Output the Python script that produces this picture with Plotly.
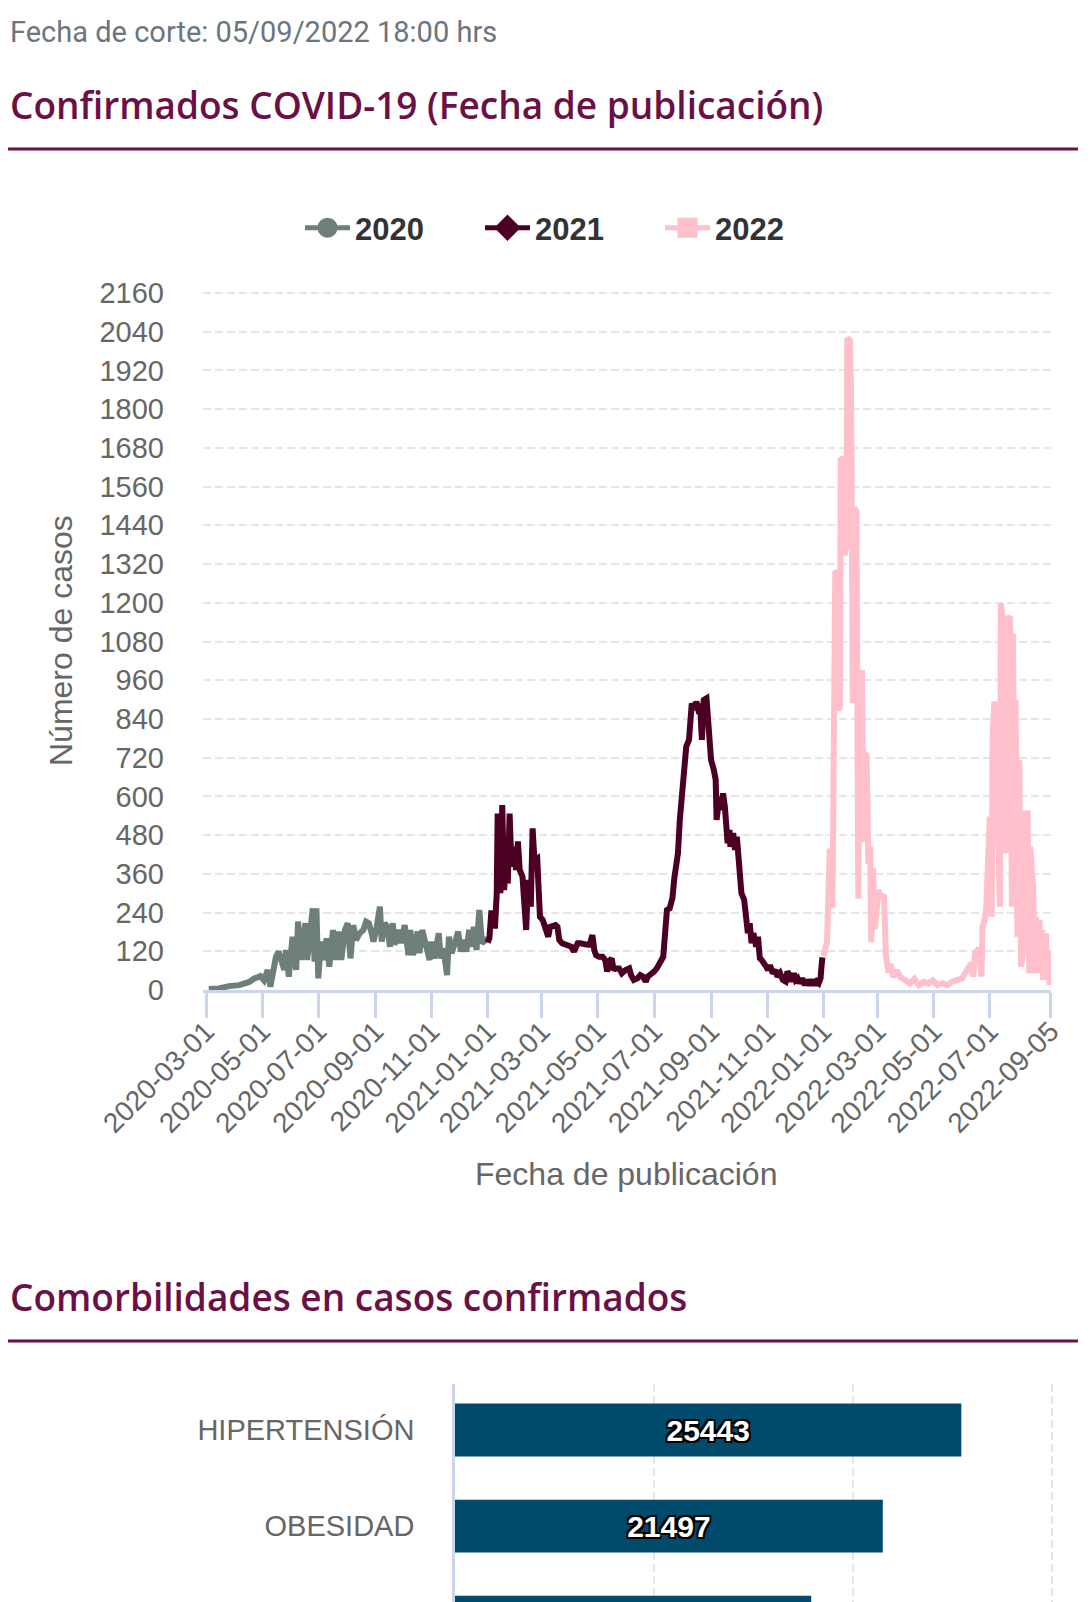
import pandas as pd
import plotly.graph_objects as go

# ---------------- data ----------------
START = "2020-03-01"  # day 0 of the day-offset arrays below

days_2020 = [3, 14, 25, 36, 47, 52, 59, 63, 67, 70, 76, 79, 85, 87, 90, 94, 98, 100, 103, 108,
             110, 113, 116, 118, 120, 122, 125, 129, 131, 134, 138, 141, 144, 147, 151, 154, 157, 160,
             163, 167, 171, 174, 177, 180, 182, 185, 189, 191, 194, 197, 200, 203, 205, 209, 212, 216,
             220, 222, 225, 230, 232, 235, 239, 243, 245, 248, 253, 255, 258, 262, 264, 267, 271, 274,
             277, 280, 283, 286, 289, 291, 294, 297, 300, 304, 306]
vals_2020 = [3, 5, 12, 15, 25, 35, 43, 30, 62, 10, 103, 119, 62, 124, 41, 165, 62, 212, 93, 207,
             93, 201, 253, 88, 253, 36, 150, 93, 160, 72, 186, 93, 181, 93, 186, 207, 98, 201,
             155, 176, 186, 212, 207, 176, 150, 186, 258, 150, 207, 196, 134, 207, 140, 186, 145, 201,
             108, 186, 108, 181, 114, 186, 134, 93, 150, 98, 176, 98, 129, 46, 165, 114, 150, 181,
             119, 155, 119, 186, 134, 196, 124, 248, 145, 155, 150]

days_2021 = [306, 308, 310, 313, 314, 316, 317, 318, 320, 322, 324, 326, 328, 330, 332, 334, 337, 339,
             341, 344, 346, 348, 350, 353, 355, 357, 360, 361, 363, 366, 369, 372, 374, 377, 380, 382,
             384, 387, 391, 395, 397, 400, 404, 407, 411, 415, 417, 420, 422, 424, 427, 431, 434, 436,
             438, 441, 443, 445, 449, 452, 456, 460, 462, 465, 469, 472, 475, 478, 480, 483, 487, 490,
             494, 497, 499, 501, 504, 507, 509, 511, 513, 515, 517, 520, 522, 525, 526, 528, 531, 533,
             536, 537, 539, 541, 544, 545, 547, 549, 552, 554, 555, 558, 559, 562, 564, 566, 567, 569,
             570, 573, 575, 577, 580, 582, 585, 587, 589, 591, 593, 595, 598, 600, 602, 604, 607, 609,
             611, 613, 616, 619, 621, 624, 627, 630, 632, 633, 636, 639, 641, 643, 645, 648, 651, 653,
             656, 659, 662, 664, 666, 668, 669, 670]
vals_2021 = [147, 160, 238, 238, 190, 300, 547, 420, 300, 573, 310, 400, 330, 547, 382, 444, 372, 460,
             372, 351, 289, 186, 341, 258, 501, 403, 408, 351, 227, 217, 196, 165, 196, 201, 201, 196,
             155, 145, 140, 140, 134, 119, 145, 145, 140, 140, 140, 170, 124, 108, 103, 103, 93, 57,
             88, 98, 62, 67, 67, 52, 62, 67, 46, 31, 36, 46, 41, 26, 41, 46, 57, 67,
             93, 103, 176, 248, 253, 285, 345, 400, 424, 527, 599, 651, 754, 775, 857, 888, 868, 894,
             857, 888, 775, 899, 904, 857, 816, 713, 682, 651, 527, 599, 558, 609, 568, 506, 455, 496,
             444, 486, 434, 475, 341, 300, 279, 238, 176, 207, 145, 176, 134, 165, 98, 93, 83, 72,
             62, 77, 52, 62, 41, 52, 31, 26, 57, 52, 26, 52, 31, 36, 21, 36, 15, 31,
             15, 31, 15, 26, 21, 36, 72, 101]

days_2022 = [671, 675, 678, 679, 681, 683, 684, 686, 687, 689, 690, 693, 694, 696, 697, 700, 701, 702,
             703, 705, 707, 709, 711, 713, 715, 716, 718, 720, 722, 723, 725, 727, 731, 734, 737, 739,
             742, 744, 747, 751, 755, 760, 765, 770, 775, 780, 785, 790, 795, 801, 806, 811, 818, 822,
             825, 829, 832, 834, 836, 840, 843, 844, 846, 848, 850, 852, 854, 855, 857, 859, 861, 863,
             864, 866, 868, 869, 870, 872, 874, 876, 877, 878, 880, 882, 884, 886, 888, 891, 893, 895,
             896, 899, 901, 902, 904, 906, 907, 909, 910, 913, 914, 916, 917, 918]
vals_2022 = [105, 148, 438, 263, 263, 862, 1299, 1293, 868, 875, 1643, 1649, 1347, 1373, 2020, 2013, 1872, 1495,
             889, 1495, 1481, 283, 983, 983, 458, 734, 727, 390, 444, 148, 377, 189, 310, 283, 296, 108,
             54, 81, 40, 61, 40, 30, 20, 35, 15, 25, 20, 30, 15, 21, 15, 26, 31, 36,
             52, 72, 83, 41, 114, 129, 41, 196, 212, 248, 465, 537, 227, 785, 894, 630, 444, 258,
             1198, 1147, 651, 424, 692, 1152, 1157, 258, 1105, 837, 899, 165, 713, 72, 114, 547, 547, 52,
             444, 320, 52, 227, 52, 217, 72, 186, 31, 176, 31, 124, 15, 60]

series_names = ["2020", "2021", "2022"]

x_tick_labels = ["2020-03-01", "2020-05-01", "2020-07-01", "2020-09-01", "2020-11-01",
                 "2021-01-01", "2021-03-01", "2021-05-01", "2021-07-01", "2021-09-01",
                 "2021-11-01", "2022-01-01", "2022-03-01", "2022-05-01", "2022-07-01", "2022-09-05"]
y_tick_values = [0, 120, 240, 360, 480, 600, 720, 840, 960, 1080, 1200, 1320, 1440,
                 1560, 1680, 1800, 1920, 2040, 2160]

bar_categories = ["HIPERTENSIÓN", "OBESIDAD", "DIABETES"]
bar_values = [25443, 21497, 17900]
bar_labels = ["25443", "21497", ""]  # third bar's label lies below the visible page
bar_grid_values = [0, 10000, 20000, 30000]

# ---------------- styling / layout helpers ----------------
W, H = 1091, 1602
def px(x):
    return x / W
def py(y):
    return 1 - y / H

MAROON = "#6b1046"
COLORS = {"2020": "#6e7f7b", "2021": "#4b0023", "2022": "#ffc0cb"}
SYMBOLS = {"2020": "circle", "2021": "diamond", "2022": "square"}
CHART_FONT = "Liberation Sans, Arial, sans-serif"

def to_dates(days):
    return pd.Timestamp(START) + pd.to_timedelta(days, unit="D")

fig = go.Figure()

series = {"2020": (days_2020, vals_2020), "2021": (days_2021, vals_2021), "2022": (days_2022, vals_2022)}
for name in series_names:
    d, v = series[name]
    fig.add_trace(go.Scatter(x=to_dates(d), y=v, mode="lines", name=name,
                             line=dict(color=COLORS[name], width=6),
                             showlegend=False, legendgroup=name,
                             xaxis="x", yaxis="y", hoverinfo="skip"))
for name in series_names:
    fig.add_trace(go.Scatter(x=[None], y=[None], mode="lines+markers", name=name,
                             line=dict(color=COLORS[name], width=5),
                             marker=dict(symbol=SYMBOLS[name], size=16, color=COLORS[name],
                                         line=dict(color=COLORS[name], width=4)),
                             legendgroup=name, showlegend=True, xaxis="x", yaxis="y"))

fig.add_trace(go.Bar(x=bar_values, y=bar_categories, orientation="h",
                     marker=dict(color="#004b6b", line=dict(width=0)),
                     text=bar_labels, textposition="inside",
                     insidetextanchor="middle", cliponaxis=True,
                     textfont=dict(family=CHART_FONT, size=30, color="white", weight="bold",
                                   shadow="2px 2px 0 #000, -2px -2px 0 #000, 2px -2px 0 #000, -2px 2px 0 #000"),
                     width=0.55, showlegend=False, xaxis="x2", yaxis="y2", hoverinfo="skip"))

x_range = [to_dates([-3.3])[0], to_dates([918.5])[0]]

fig.update_layout(
    width=W, height=H, margin=dict(l=0, r=0, t=0, b=0, autoexpand=False),
    paper_bgcolor="white", plot_bgcolor="white",
    showlegend=True,
    legend=dict(orientation="h", x=px(300), xanchor="left", y=py(228), yanchor="middle",
                font=dict(family=CHART_FONT, size=31, color="#333333", weight="bold"),
                itemwidth=45, entrywidth=120, entrywidthmode="pixels", bgcolor="rgba(0,0,0,0)",
                itemclick=False, itemdoubleclick=False),
    xaxis=dict(domain=[px(203), px(1051)], anchor="y", type="date", range=x_range,
               tickvals=x_tick_labels, ticktext=x_tick_labels, tickangle=-45,
               tickfont=dict(family=CHART_FONT, size=28, color="#666666"),
               ticks="outside", ticklen=25, tickwidth=2.6, tickcolor="#ccd6eb",
               ticklabelstandoff=-14,
               showline=True, linecolor="#ccd6eb", linewidth=2.6, automargin=False,
               showgrid=False, zeroline=False, fixedrange=True),
    yaxis=dict(domain=[py(990), py(286)], anchor="x", range=[0, 2160 * 704 / 697],
               tickvals=y_tick_values, ticktext=[str(v) for v in y_tick_values],
               tickfont=dict(family=CHART_FONT, size=29, color="#666666"),
               ticks="", ticklabelstandoff=38, automargin=False,
               showgrid=True, gridcolor="#e6e6e6", gridwidth=2, griddash="8px,4px",
               showline=False, zeroline=False, fixedrange=True),
    xaxis2=dict(domain=[px(455), px(1054)], anchor="y2", range=[0, 30100],
                tickvals=bar_grid_values, showticklabels=False, ticks="", automargin=False,
                showgrid=True, gridcolor="#e6e6e6", gridwidth=2, griddash="8px,4px",
                zeroline=False, showline=False, fixedrange=True),
    yaxis2=dict(domain=[0, py(1384)], anchor="x2", type="category",
                categoryorder="array", categoryarray=bar_categories,
                range=[1.79, -0.479], automargin=False,
                tickfont=dict(family=CHART_FONT, size=29, color="#666666"),
                ticks="", ticklabelstandoff=32,
                showline=True, linecolor="#ccd6eb", linewidth=2.6,
                showgrid=False, zeroline=False, fixedrange=True),
    bargap=0.45,
)

fig.update_layout(annotations=[
    dict(text="Fecha de corte: 05/09/2022 18:00 hrs", x=px(8), y=py(32), xref="paper", yref="paper",
         xanchor="left", yanchor="middle", showarrow=False,
         font=dict(family="Roboto", size=29, color="#6c757d")),
    dict(text="Confirmados COVID-19 (Fecha de publicación)", x=px(8), y=py(104), xref="paper", yref="paper",
         xanchor="left", yanchor="middle", showarrow=False,
         font=dict(family="Open Sans", size=37, color=MAROON, weight=600)),
    dict(text="Comorbilidades en casos confirmados", x=px(8), y=py(1296), xref="paper", yref="paper",
         xanchor="left", yanchor="middle", showarrow=False,
         font=dict(family="Open Sans", size=37, color=MAROON, weight=600)),
    dict(text="Número de casos", x=px(61), y=py(641), xref="paper", yref="paper",
         xanchor="center", yanchor="middle", textangle=-90, showarrow=False,
         font=dict(family=CHART_FONT, size=32, color="#666666")),
    dict(text="Fecha de publicación", x=px(626), y=py(1174), xref="paper", yref="paper",
         xanchor="center", yanchor="middle", showarrow=False,
         font=dict(family=CHART_FONT, size=32, color="#666666")),
])

fig.update_layout(shapes=[
    dict(type="line", xref="paper", yref="paper", x0=px(8), x1=px(1078), y0=py(149), y1=py(149),
         line=dict(color=MAROON, width=3)),
    dict(type="line", xref="paper", yref="paper", x0=px(8), x1=px(1078), y0=py(1341), y1=py(1341),
         line=dict(color=MAROON, width=3)),
])

fig.write_html("out.html", config={"displayModeBar": False},
               post_script="document.body.style.margin='0';document.body.style.overflow='hidden';")
